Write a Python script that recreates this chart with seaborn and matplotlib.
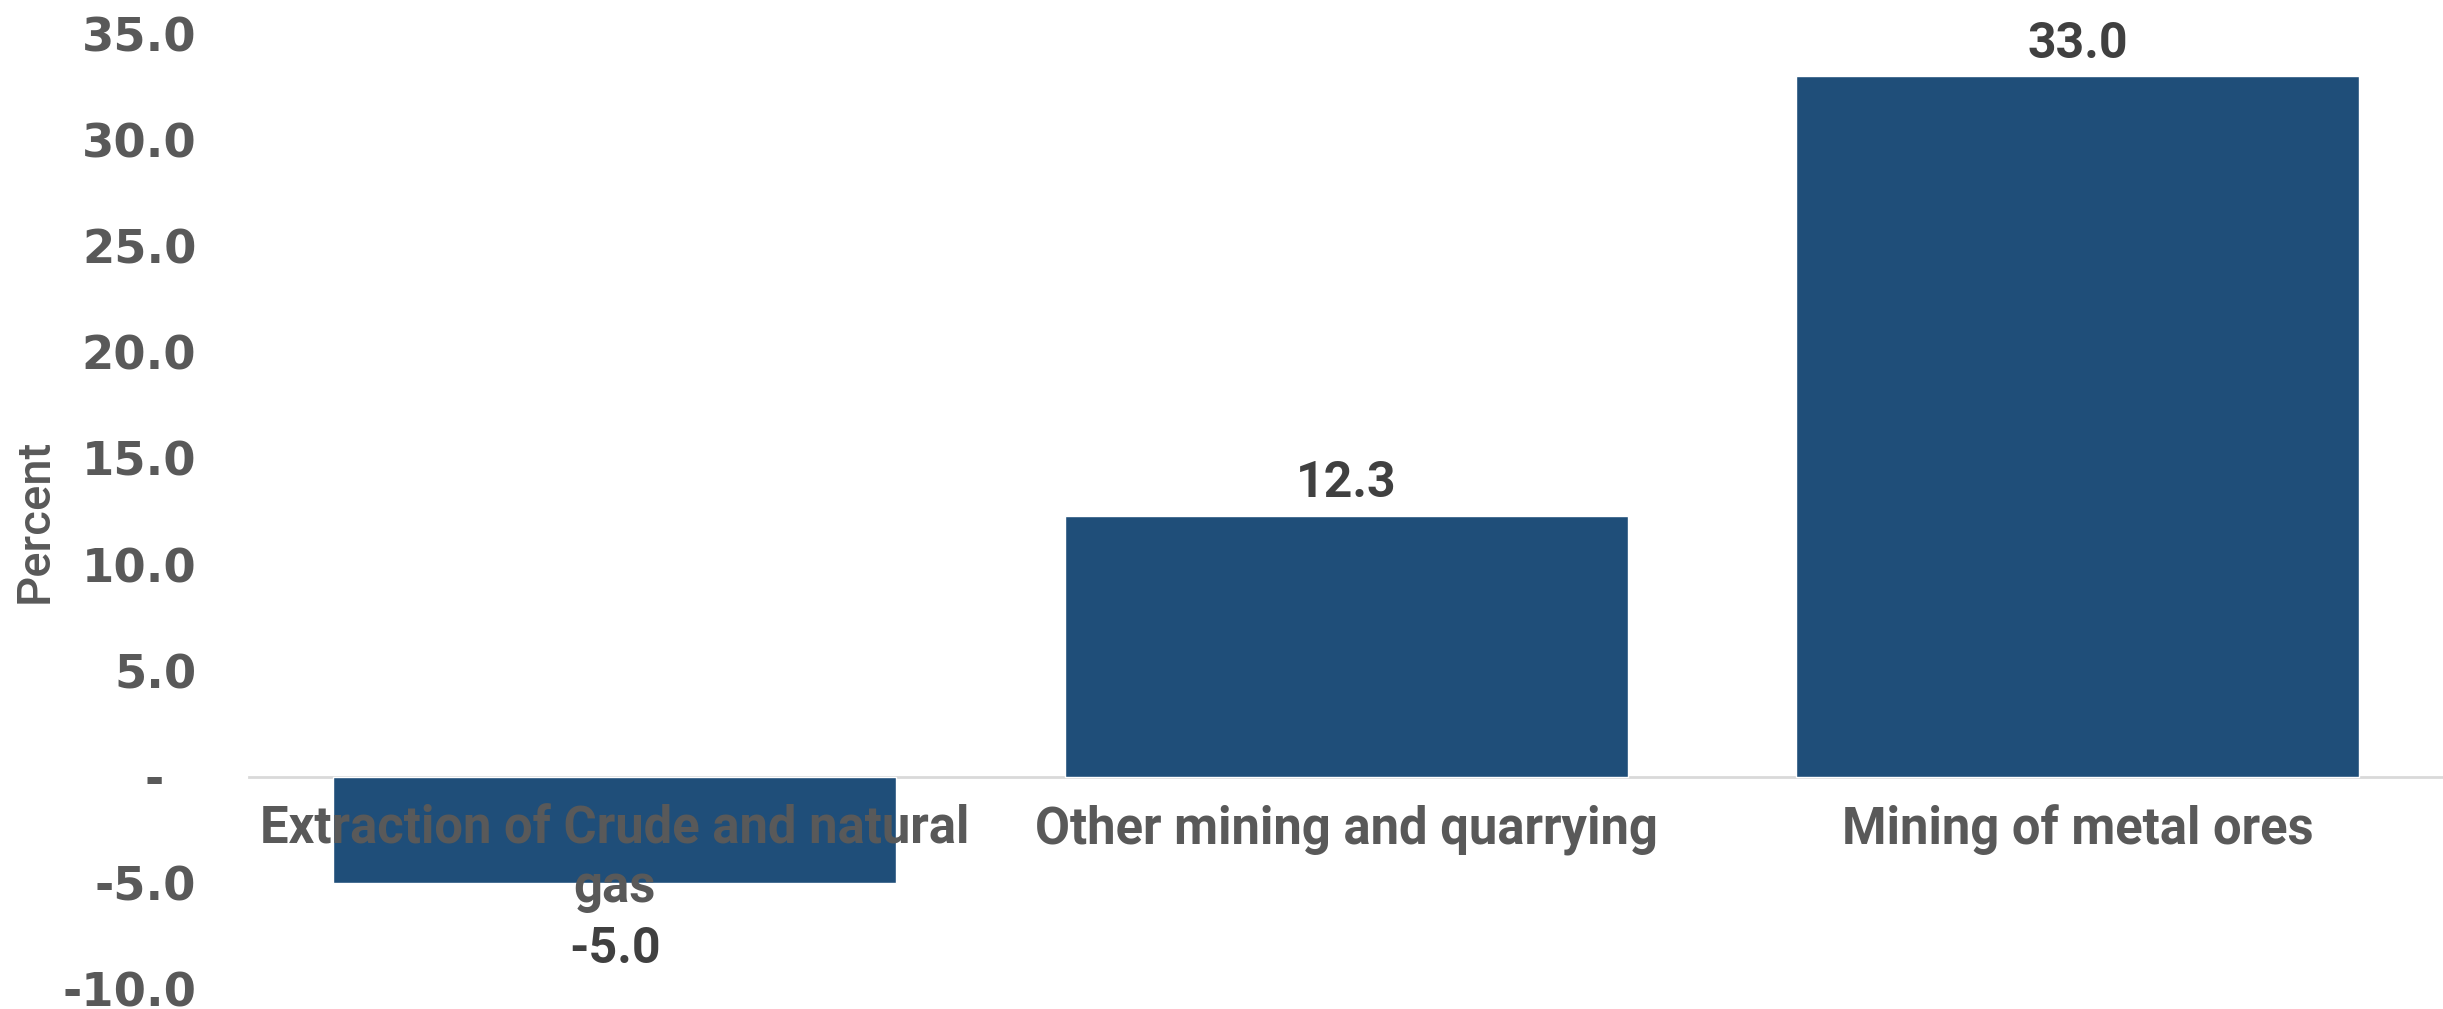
import matplotlib
matplotlib.use("Agg")
import matplotlib.pyplot as plt
from matplotlib import font_manager
from matplotlib.ticker import FuncFormatter, MultipleLocator
import pandas as pd
import seaborn as sns

# Growth of mining sub-sectors (percent)
sectors = ["Extraction of Crude and natural\ngas", "Other mining and quarrying", "Mining of metal ores"]
growth = [-5.0, 12.3, 33.0]
value_labels = ["-5.0", "12.3", "33.0"]

BAR_COLOR = "#1F4E79"
TICK_COLOR = "#595959"
VALUE_COLOR = "#404040"
ZERO_LINE = "#D9D9D9"


def first_available(candidates):
    installed = {f.name for f in font_manager.fontManager.ttflist}
    for name in candidates:
        if name in installed:
            return name
    return "DejaVu Sans"


narrow = first_available(["Liberation Sans Narrow", "Roboto", "Lato"])

sns.set_theme(style="white")
plt.rcParams["font.family"] = ["DejaVu Sans"]

df = pd.DataFrame({"sector": sectors, "growth": growth})

fig = plt.figure(figsize=(24.43, 10.09), dpi=100)
ax = fig.add_axes([0.102, 0.0198, 0.898, 0.9465])

sns.barplot(data=df, x="sector", y="growth", color=BAR_COLOR,
            saturation=1, width=0.77, ax=ax, zorder=2)

ax.set_ylim(-10, 35)
ax.set_xlim(-0.5, 2.5)
ax.yaxis.set_major_locator(MultipleLocator(5))
# accounting style: zero shown as a dash
ax.yaxis.set_major_formatter(FuncFormatter(lambda v, _: "-  " if abs(v) < 1e-9 else f"{v:.1f}"))

# category axis sits on the zero line; its labels are drawn over the bars
ax.set_axisbelow(False)
for side in ["top", "right", "left"]:
    ax.spines[side].set_visible(False)
ax.spines["bottom"].set_position(("data", 0))
ax.spines["bottom"].set_color(ZERO_LINE)
ax.spines["bottom"].set_linewidth(2)
ax.spines["bottom"].set_zorder(1)

ax.tick_params(axis="y", length=0, pad=38, labelsize=33.5, labelcolor=TICK_COLOR)
ax.tick_params(axis="x", length=0, pad=20, labelcolor=TICK_COLOR)
for lbl in ax.get_yticklabels():
    lbl.set_fontweight("bold")
for lbl in ax.get_xticklabels():
    lbl.set_fontfamily(narrow)
    lbl.set_fontweight("bold")
    lbl.set_fontsize(36.5)
    lbl.set_linespacing(1.22)
    lbl.set_zorder(5)

ax.set_xlabel("")
ax.set_ylabel("Percent", fontsize=34, color=TICK_COLOR, family=narrow,
              fontweight="medium")
ax.yaxis.set_label_coords(-0.088, 0.49)

for bar, val, txt in zip(ax.patches, growth, value_labels):
    x = bar.get_x() + bar.get_width() / 2
    off = 6 if val >= 0 else -31
    ax.annotate(txt, (x, val), xytext=(0, off), textcoords="offset points",
                ha="center", va="bottom" if val >= 0 else "top",
                fontsize=36, fontweight="bold", color=VALUE_COLOR, family=narrow)

fig.savefig("out.png", dpi=100, facecolor="white")
